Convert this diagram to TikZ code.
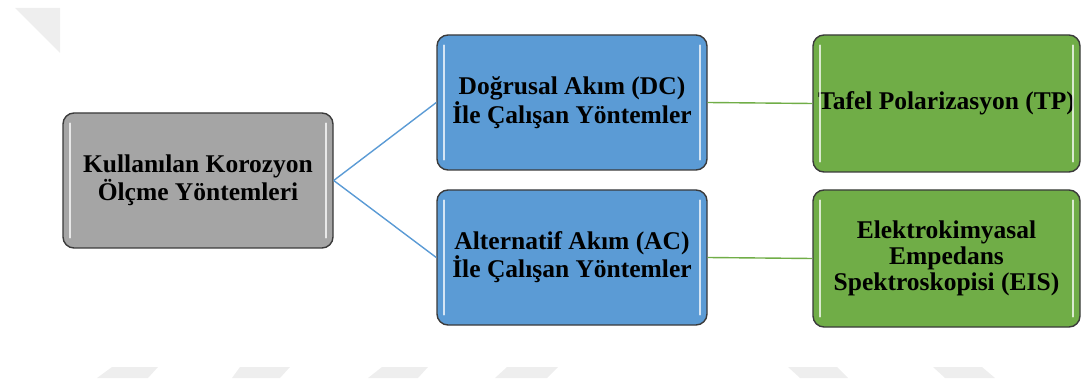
\documentclass[tikz,border=0pt]{standalone}
\usepackage{fontspec}
\setmainfont{Liberation Serif}
\usepackage{tikz}
\usetikzlibrary{calc}

\definecolor{boxgray}{HTML}{A5A5A5}
\definecolor{boxblue}{HTML}{5B9BD5}
\definecolor{boxgreen}{HTML}{70AD47}
\definecolor{wmark}{HTML}{EEEEEE}
\definecolor{edge}{HTML}{3A3A3A}

\tikzset{
	kutu/.style={draw=edge, line width=1.4pt, rounded corners=11pt, minimum width=270pt, minimum height=135pt, inner sep=0pt, align=center, font=\fontsize{25.5}{26}\selectfont\bfseries},
	parlak/.style={white, opacity=0.75, line width=2pt, line cap=round},
	maviyol/.style={boxblue, line width=1.4pt},
	yesilyol/.style={boxgreen, line width=1.4pt}
}

\begin{document}
\begin{tikzpicture}[x=1pt, y=1pt]
	\useasboundingbox (0,0) rectangle (1081,383);
	% watermark
	\fill[wmark] (15,375) -- (60,375) -- (60,330) -- cycle;
	\foreach \a/\b/\c/\d in {97/148/158/112, 232/280/290/240, 368/418/428/382, 495/547/558/507}
		\fill[wmark] (\a,5) -- (\b,5) -- (\c,16) -- (\d,16) -- cycle;
	\foreach \a/\b/\c/\d in {800/848/837/788, 945/995/982/933}
		\fill[wmark] (\a,5) -- (\b,5) -- (\c,16) -- (\d,16) -- cycle;
	% boxes
	\node[kutu, fill=boxgray] (yontem) at (198,202.5) {Kullanılan Korozyon\\Ölçme Yöntemleri};
	\node[kutu, fill=boxblue] (dc) at (572,280.5) {Doğrusal Akım (DC)\\İle Çalışan Yöntemler};
	\node[kutu, fill=boxblue] (ac) at (572,125.5) {Alternatif Akım (AC)\\İle Çalışan Yöntemler};
	\node[kutu, fill=boxgreen, minimum width=267pt, minimum height=137pt] (tp) at (946.5,279.5) {Tafel Polarizasyon (TP)};
	\node[kutu, fill=boxgreen, minimum width=267pt, minimum height=137pt] (eis) at (946.5,124.5) {Elektrokimyasal\\Empedans\\Spektroskopisi (EIS)};
	% gloss
	\foreach \k in {yontem, dc, ac, tp, eis} {
		\draw[parlak] ($(\k.north west)+(8,-11)$) -- ($(\k.south west)+(8,11)$);
		\draw[parlak] ($(\k.north east)+(-8,-11)$) -- ($(\k.south east)+(-8,11)$);
	}
	% connectors
	\draw[maviyol] (yontem.east) -- (dc.west);
	\draw[maviyol] (yontem.east) -- (ac.west);
	\draw[yesilyol] (dc.east) -- (tp.west);
	\draw[yesilyol] (ac.east) -- (eis.west);
\end{tikzpicture}
\end{document}
